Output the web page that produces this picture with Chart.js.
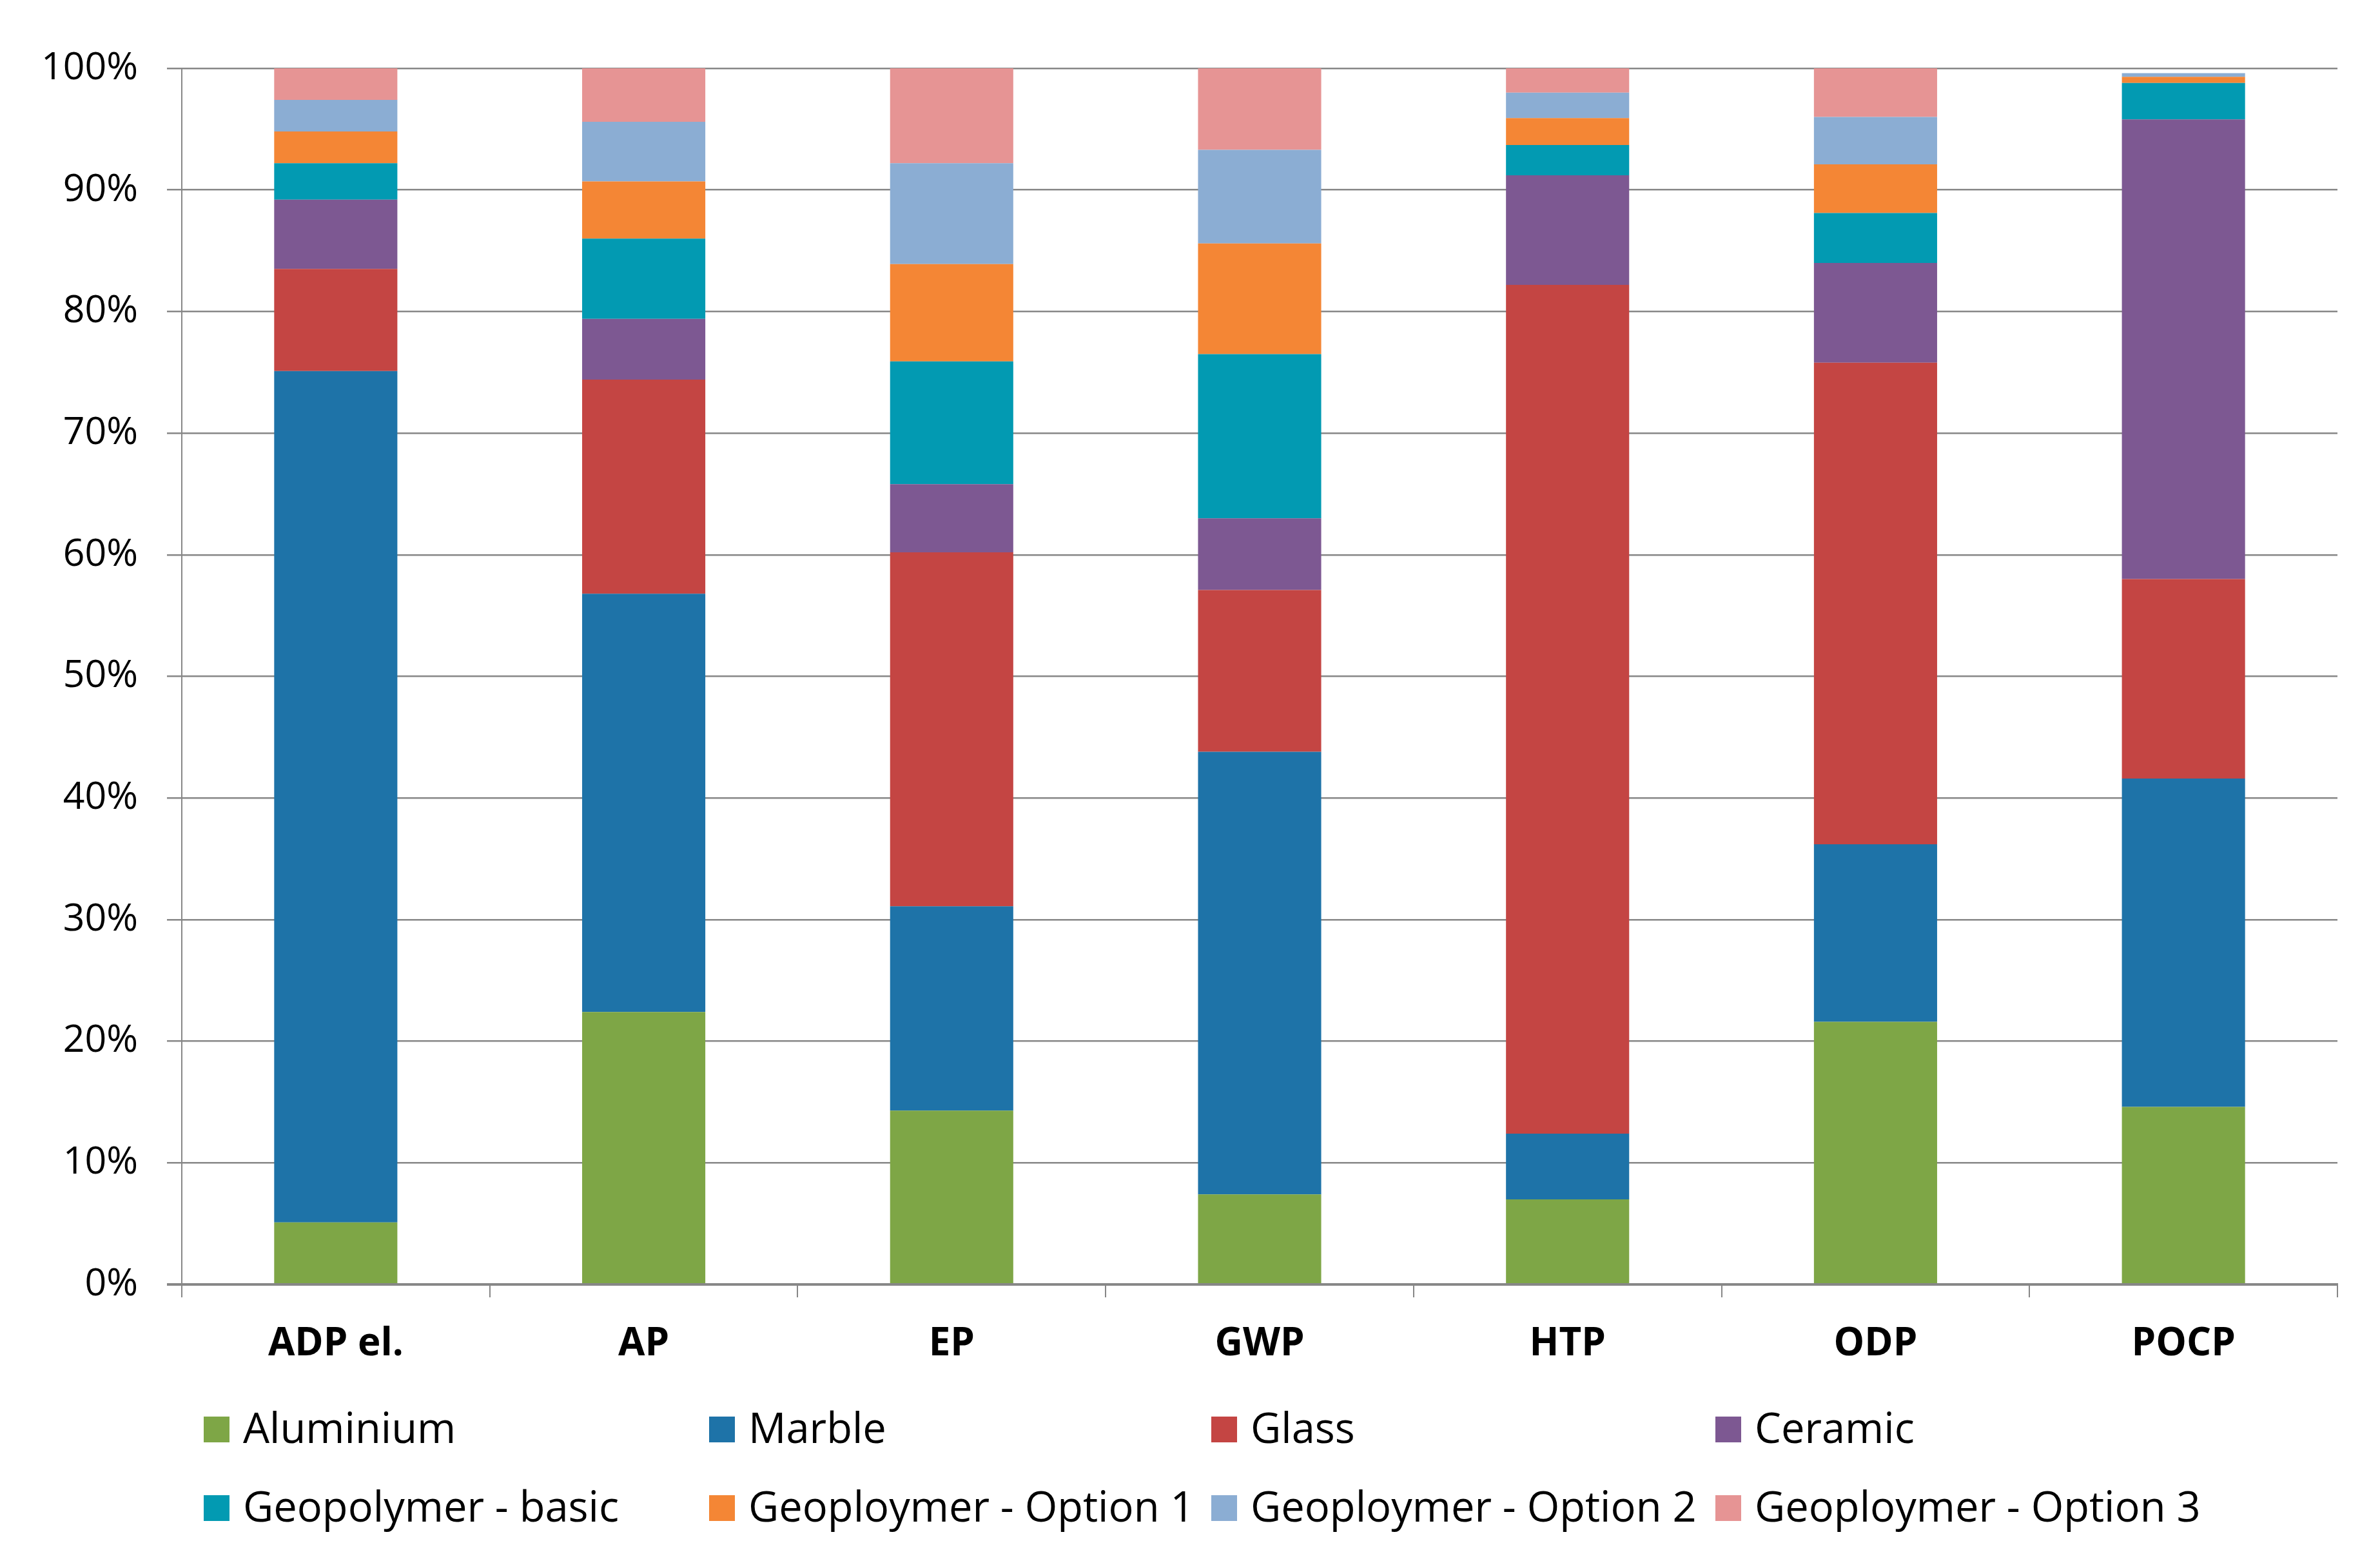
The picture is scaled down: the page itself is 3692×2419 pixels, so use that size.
<!DOCTYPE html>
<html>
<head>
<meta charset="utf-8">
<title>Impactos por material</title>
<script src="https://cdn.jsdelivr.net/npm/chart.js"></script>
<style>
  html, body { margin: 0; padding: 0; background: #fff; overflow: hidden; }
  #grafico { display: block; }
</style>
</head>
<body>
<canvas id="grafico" width="3692" height="2419"></canvas>
<script>
// dados (% por categoria)
var categorias = ['ADP el.', 'AP', 'EP', 'GWP', 'HTP', 'ODP', 'POCP'];
var aluminium = [5.1, 22.4, 14.3, 7.4, 7.0, 21.6, 14.6];
var marble    = [70.0, 34.4, 16.8, 36.4, 5.4, 14.6, 27.0];
var glass     = [8.4, 17.6, 29.1, 13.3, 69.8, 39.6, 16.4];
var ceramic   = [5.7, 5.0, 5.6, 5.9, 9.0, 8.2, 37.8];
var geoBasic  = [3.0, 6.6, 10.1, 13.5, 2.5, 4.1, 3.0];
var geoOpt1   = [2.6, 4.7, 8.0, 9.1, 2.2, 4.0, 0.5];
var geoOpt2   = [2.6, 4.9, 8.3, 7.7, 2.1, 3.9, 0.3];
var geoOpt3   = [2.6, 4.4, 7.8, 6.7, 2.0, 4.0, 0];
var tickLabels = ['0%', '10%', '20%', '30%', '40%', '50%', '60%', '70%', '80%', '90%', '100%'];

var fonte = '"Open Sans", "Noto Sans", sans-serif';
var cinza = '#878787';

// legenda em colunas, como no Excel
var legendCols = [316, 1100, 1879, 2661];
var legendRows = [2218, 2340];

var legendaColunas = {
    id: 'legendaColunas',
    afterDraw: function(chart) {
        var ctx = chart.ctx;
        ctx.save();
        ctx.font = '65px ' + fonte;
        ctx.textBaseline = 'middle';
        ctx.textAlign = 'left';
        chart.data.datasets.forEach(function(ds, i) {
            var x = legendCols[i % 4];
            var y = legendRows[Math.floor(i / 4)];
            ctx.fillStyle = ds.backgroundColor;
            ctx.fillRect(x, y - 20, 40, 40);
            ctx.fillStyle = '#000';
            ctx.fillText(ds.label, x + 61, y + 2);
        });
        ctx.restore();
    }
};

function serie(label, data, cor) {
    return {
        label: label,
        data: data,
        backgroundColor: cor,
        borderWidth: 0,
        barPercentage: 0.4,
        categoryPercentage: 1.0
    };
}

var ctx = document.getElementById('grafico').getContext('2d');
var grafico = new Chart(ctx, {
    type: 'bar',
    data: {
        labels: categorias,
        datasets: [
            serie('Aluminium', aluminium, '#7EA646'),
            serie('Marble', marble, '#1E73A8'),
            serie('Glass', glass, '#C44543'),
            serie('Ceramic', ceramic, '#7D5892'),
            serie('Geopolymer - basic', geoBasic, '#029AB2'),
            serie('Geoploymer - Option 1', geoOpt1, '#F48635'),
            serie('Geoploymer - Option 2', geoOpt2, '#8BADD3'),
            serie('Geoploymer - Option 3', geoOpt3, '#E69494')
        ]
    },
    options: {
        responsive: false,
        animation: false,
        devicePixelRatio: 1,
        layout: {
            padding: { top: 106, left: 0, right: 66, bottom: 300 }
        },
        plugins: {
            legend: { display: false },
            tooltip: { enabled: false }
        },
        scales: {
            x: {
                stacked: true,
                afterFit: function(scale) { scale.height = 126; },
                grid: {
                    drawOnChartArea: false,
                    drawTicks: true,
                    tickLength: 20,
                    color: cinza,
                    lineWidth: 2
                },
                border: { display: true, color: cinza, width: 4 },
                ticks: {
                    padding: 37,
                    color: '#000',
                    font: { family: fonte, size: 60, weight: 'bold' }
                }
            },
            y: {
                stacked: true,
                min: 0,
                max: 100,
                afterFit: function(scale) { scale.width = 282; },
                grid: {
                    color: cinza,
                    lineWidth: function(c) { return c.tick && c.tick.value === 0 ? 4 : 2.5; },
                    drawTicks: true,
                    tickLength: 23
                },
                border: { display: true, color: cinza, width: 2 },
                ticks: {
                    stepSize: 10,
                    padding: 45,
                    color: '#000',
                    font: { family: fonte, size: 59 },
                    callback: function(value, index) { return tickLabels[index]; }
                }
            }
        }
    },
    plugins: [legendaColunas]
});
</script>
</body>
</html>
